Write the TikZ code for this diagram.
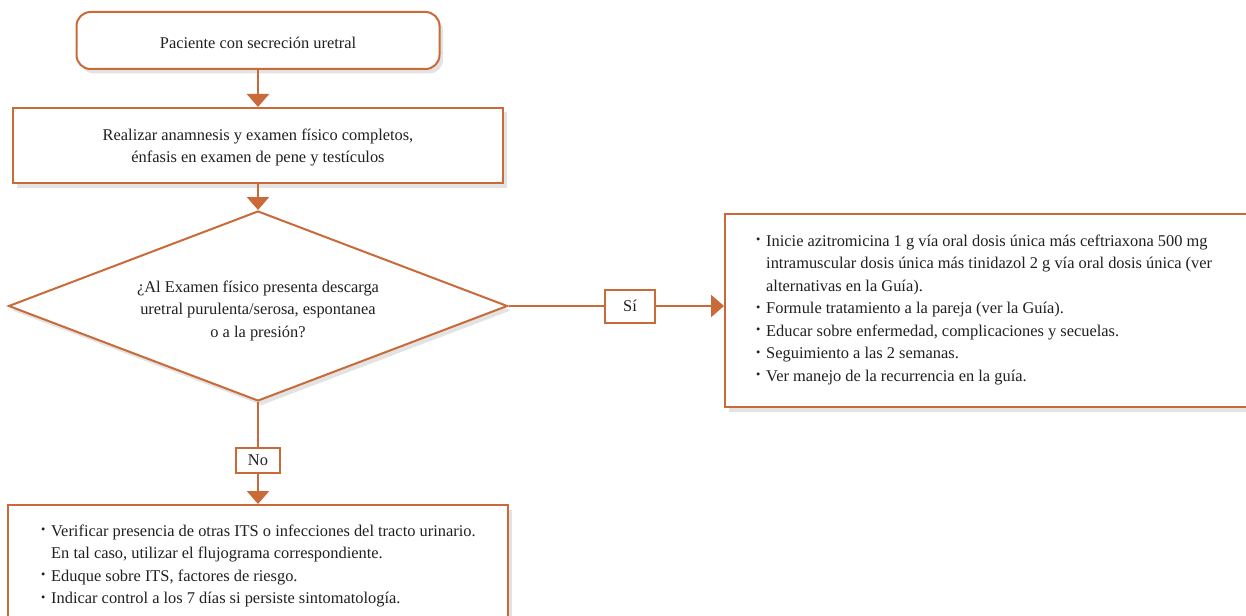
\documentclass[tikz,border=0pt]{standalone}
\usepackage{fontspec}
\setmainfont{Liberation Serif}
\usetikzlibrary{arrows.meta,shapes.geometric,shadows}
\definecolor{bord}{RGB}{201,106,56}
\definecolor{txt}{RGB}{35,31,32}
\newcommand\bul{\makebox[10pt][l]{\raisebox{0.3ex}{\scalebox{0.75}{\textbullet}}}}
\begin{document}
\begin{tikzpicture}[x=1pt,y=-1pt,
  every node/.style={font=\fontsize{16.4}{22.5}\selectfont, text=txt},
  shad/.style={drop shadow={opacity=0.22,shadow xshift=3.5pt,shadow yshift=-4.5pt}},
  boxst/.style={draw=bord,line width=2pt,fill=white,shad,inner sep=0pt},
  tagst/.style={draw=bord,line width=2pt,fill=white,inner sep=0pt},
  txtst/.style={inner sep=0pt,align=center},
  conn/.style={draw=bord,line width=2.6pt},
  arr/.style={conn,-{Triangle[width=22pt,length=13pt]}},
  ]
\useasboundingbox (0,0) rectangle (1246,615);
\clip (0,0) rectangle (1246,615);
\node[boxst,rounded corners=14pt,minimum width=363pt,minimum height=57pt] (start) at (258,40.5) {};
\node[txtst] (starttxt) at (258,42.5) {Paciente con secreción uretral};
\node[boxst,minimum width=490pt,minimum height=75pt] (exam) at (258,145.5) {};
\node[txtst] (examtxt) at (258,147.5) {Realizar anamnesis y examen físico completos,\\énfasis en examen de pene y testículos};
\node[boxst,diamond,minimum width=499pt,minimum height=190pt] (dec) at (258,306) {};
\node[txtst] (dectxt) at (258,310.5) {¿Al Examen físico presenta descarga\\uretral purulenta/serosa, espontanea\\o a la presión?};
\node[tagst,minimum width=50pt,minimum height=33pt] (si) at (630,306) {Sí};
\node[tagst,minimum width=44pt,minimum height=25pt] (no) at (258,460.5) {No};
\node[boxst,minimum width=540pt,minimum height=193pt] (yes) at (995,310.5) {};
\node[boxst,minimum width=500pt,minimum height=130pt] (nobox) at (258,570) {};
\node[anchor=north west,align=left,inner sep=0pt] (yestxt) at (756,234.5) {\bul Inicie azitromicina 1 g vía oral dosis única más ceftriaxona 500 mg\\\hphantom{\bul}intramuscular dosis única más tinidazol 2 g vía oral dosis única (ver\\\hphantom{\bul}alternativas en la Guía).\\\bul Formule tratamiento a la pareja (ver la Guía).\\\bul Educar sobre enfermedad, complicaciones y secuelas.\\\bul Seguimiento a las 2 semanas.\\\bul Ver manejo de la recurrencia en la guía.};
\node[anchor=north west,align=left,inner sep=0pt] (notxt) at (41,524.5) {\bul Verificar presencia de otras ITS o infecciones del tracto urinario.\\\hphantom{\bul}En tal caso, utilizar el flujograma correspondiente.\\\bul Eduque sobre ITS, factores de riesgo.\\\bul Indicar control a los 7 días si persiste sintomatología.};
\draw[arr] (start.south) -- (exam.north);
\draw[arr] (exam.south) -- (dec.north);
\draw[conn] (dec.east) -- (si.west);
\draw[arr] (si.east) -- (si.east -| yes.west);
\draw[conn] (dec.south) -- (no.north);
\draw[arr] (no.south) -- (nobox.north);
\end{tikzpicture}
\end{document}
